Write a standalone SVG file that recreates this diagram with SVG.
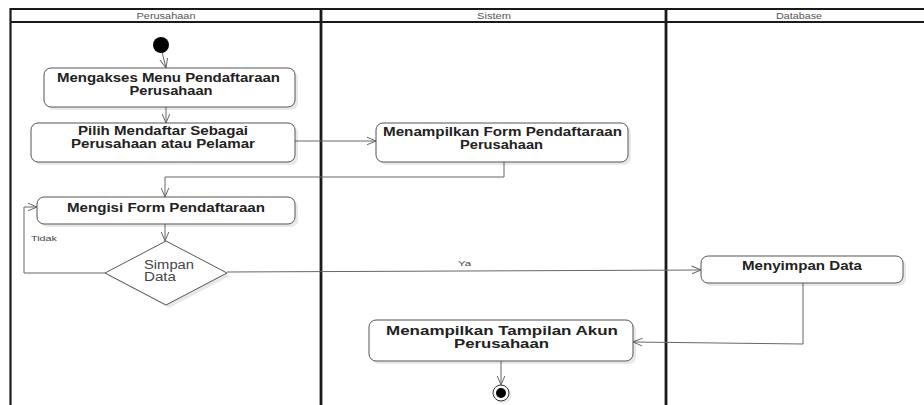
<svg xmlns="http://www.w3.org/2000/svg" width="924" height="405" viewBox="0 0 924 405">
  <style>
    .lane { fill: none; stroke: #1a1a1a; }
    .lanetitle { font-family: "Liberation Sans", Arial, sans-serif; font-size: 9px; fill: #555; text-anchor: middle; }
    .act { fill: #fff; stroke: #555; stroke-width: 1; }
    .shadow { fill: #000; opacity: 0.09; }
    .label { font-family: "Liberation Sans", Arial, sans-serif; font-weight: bold; font-size: 12.5px; fill: #222; text-anchor: middle; }
    .dlabel { font-family: "Liberation Sans", Arial, sans-serif; font-size: 12.5px; fill: #444; text-anchor: middle; }
    .guard { font-family: "Liberation Sans", Arial, sans-serif; font-size: 8px; fill: #444; }
    .flow { fill: none; stroke: #666; stroke-width: 1; marker-end: url(#open); }
  </style>
  <defs>
    <marker id="open" viewBox="0 0 10 10" refX="9.5" refY="5" markerWidth="10" markerHeight="10" markerUnits="userSpaceOnUse" orient="auto">
      <path d="M0,1 L9.5,5 L0,9" fill="none" stroke="#666" stroke-width="1"/>
    </marker>
  </defs>

  <rect width="924" height="405" fill="#fff"/>

  <!-- swimlanes -->
  <g id="lanes">
    <line class="lane" x1="10.5" y1="9" x2="924" y2="9" stroke-width="2"/>
    <line class="lane" x1="10.5" y1="22" x2="924" y2="22" stroke-width="1.8" stroke="#333"/>
    <line class="lane" x1="10.5" y1="8" x2="10.5" y2="405" stroke-width="2.2"/>
    <line class="lane" x1="321" y1="8" x2="321" y2="405" stroke-width="2.8"/>
    <line class="lane" x1="666" y1="8" x2="666" y2="405" stroke-width="2.8"/>
    <text class="lanetitle" x="166" y="18.5" textLength="59" lengthAdjust="spacingAndGlyphs">Perusahaan</text>
    <text class="lanetitle" x="494" y="18.5" textLength="34" lengthAdjust="spacingAndGlyphs">Sistem</text>
    <text class="lanetitle" x="799" y="18.5" textLength="46" lengthAdjust="spacingAndGlyphs">Database</text>
  </g>

  <!-- connectors -->
  <g id="connectors">
    <path class="flow" d="M162,52 L166,68"/>
    <path class="flow" d="M166,107 L166,123"/>
    <path class="flow" d="M295,141 L376,141"/>
    <path class="flow" d="M504,162 L504,177 L165,177 L165,197"/>
    <path class="flow" d="M165,224 L165,241"/>
    <path class="flow" d="M105,273 L24,273 L24,207 L37,207"/>
    <text class="guard" x="31" y="241" textLength="26" lengthAdjust="spacingAndGlyphs">Tidak</text>
    <path class="flow" d="M227,272 L701,270"/>
    <text class="guard" x="458" y="265.5" textLength="13" lengthAdjust="spacingAndGlyphs">Ya</text>
    <path class="flow" d="M803,283 L803,344 L633,342"/>
    <path class="flow" d="M501,361 L501,385"/>
  </g>

  <!-- start -->
  <g id="start">
    <circle cx="161" cy="45" r="8" fill="#000"/>
  </g>

  <g id="mengakses-menu">
    <rect class="shadow" x="47" y="71" width="251" height="39" rx="7"/>
    <rect class="act" x="44" y="68" width="251" height="39" rx="7"/>
    <text class="label" x="168.5" y="82" textLength="223" lengthAdjust="spacingAndGlyphs">Mengakses Menu Pendaftaraan</text>
    <text class="label" x="171" y="94.5" textLength="83" lengthAdjust="spacingAndGlyphs">Perusahaan</text>
  </g>

  <g id="pilih-mendaftar">
    <rect class="shadow" x="34" y="126" width="264" height="39" rx="7"/>
    <rect class="act" x="31" y="123" width="264" height="39" rx="7"/>
    <text class="label" x="163" y="135" textLength="170" lengthAdjust="spacingAndGlyphs">Pilih Mendaftar Sebagai</text>
    <text class="label" x="163" y="147.5" textLength="184" lengthAdjust="spacingAndGlyphs">Perusahaan atau Pelamar</text>
  </g>

  <g id="menampilkan-form">
    <rect class="shadow" x="379" y="126" width="252" height="39" rx="7"/>
    <rect class="act" x="376" y="123" width="252" height="39" rx="7"/>
    <text class="label" x="502.5" y="136" textLength="239" lengthAdjust="spacingAndGlyphs">Menampilkan Form Pendaftaraan</text>
    <text class="label" x="501.5" y="148.5" textLength="83" lengthAdjust="spacingAndGlyphs">Perusahaan</text>
  </g>

  <g id="mengisi-form">
    <rect class="shadow" x="40" y="200" width="258" height="27" rx="7"/>
    <rect class="act" x="37" y="197" width="258" height="27" rx="7"/>
    <text class="label" x="166" y="211.5" textLength="198" lengthAdjust="spacingAndGlyphs">Mengisi Form Pendaftaraan</text>
  </g>

  <g id="simpan-data">
    <polygon class="shadow" points="169,244 230,276 169,308 108,276"/>
    <polygon class="act" points="166,241 227,273 166,305 105,273"/>
    <text class="dlabel" x="169" y="268.5" textLength="50" lengthAdjust="spacingAndGlyphs">Simpan</text>
    <text class="dlabel" x="160" y="281" textLength="32" lengthAdjust="spacingAndGlyphs">Data</text>
  </g>

  <g id="menyimpan-data">
    <rect class="shadow" x="704" y="259" width="202" height="27" rx="7"/>
    <rect class="act" x="701" y="256" width="202" height="27" rx="7"/>
    <text class="label" x="802" y="269.5" textLength="120" lengthAdjust="spacingAndGlyphs">Menyimpan Data</text>
  </g>

  <g id="menampilkan-akun">
    <rect class="shadow" x="372" y="323" width="264" height="41" rx="7"/>
    <rect class="act" x="369" y="320" width="264" height="41" rx="7"/>
    <text class="label" x="502" y="335" textLength="232" lengthAdjust="spacingAndGlyphs">Menampilkan Tampilan Akun</text>
    <text class="label" x="501.5" y="347.5" textLength="95" lengthAdjust="spacingAndGlyphs">Perusahaan</text>
  </g>

  <!-- end -->
  <g id="end">
    <circle cx="503" cy="395" r="8.5" fill="#000" opacity="0.08"/>
    <circle cx="501" cy="393" r="8" fill="#fff" stroke="#333" stroke-width="1"/>
    <circle cx="501" cy="393" r="5" fill="#000"/>
  </g>
</svg>
